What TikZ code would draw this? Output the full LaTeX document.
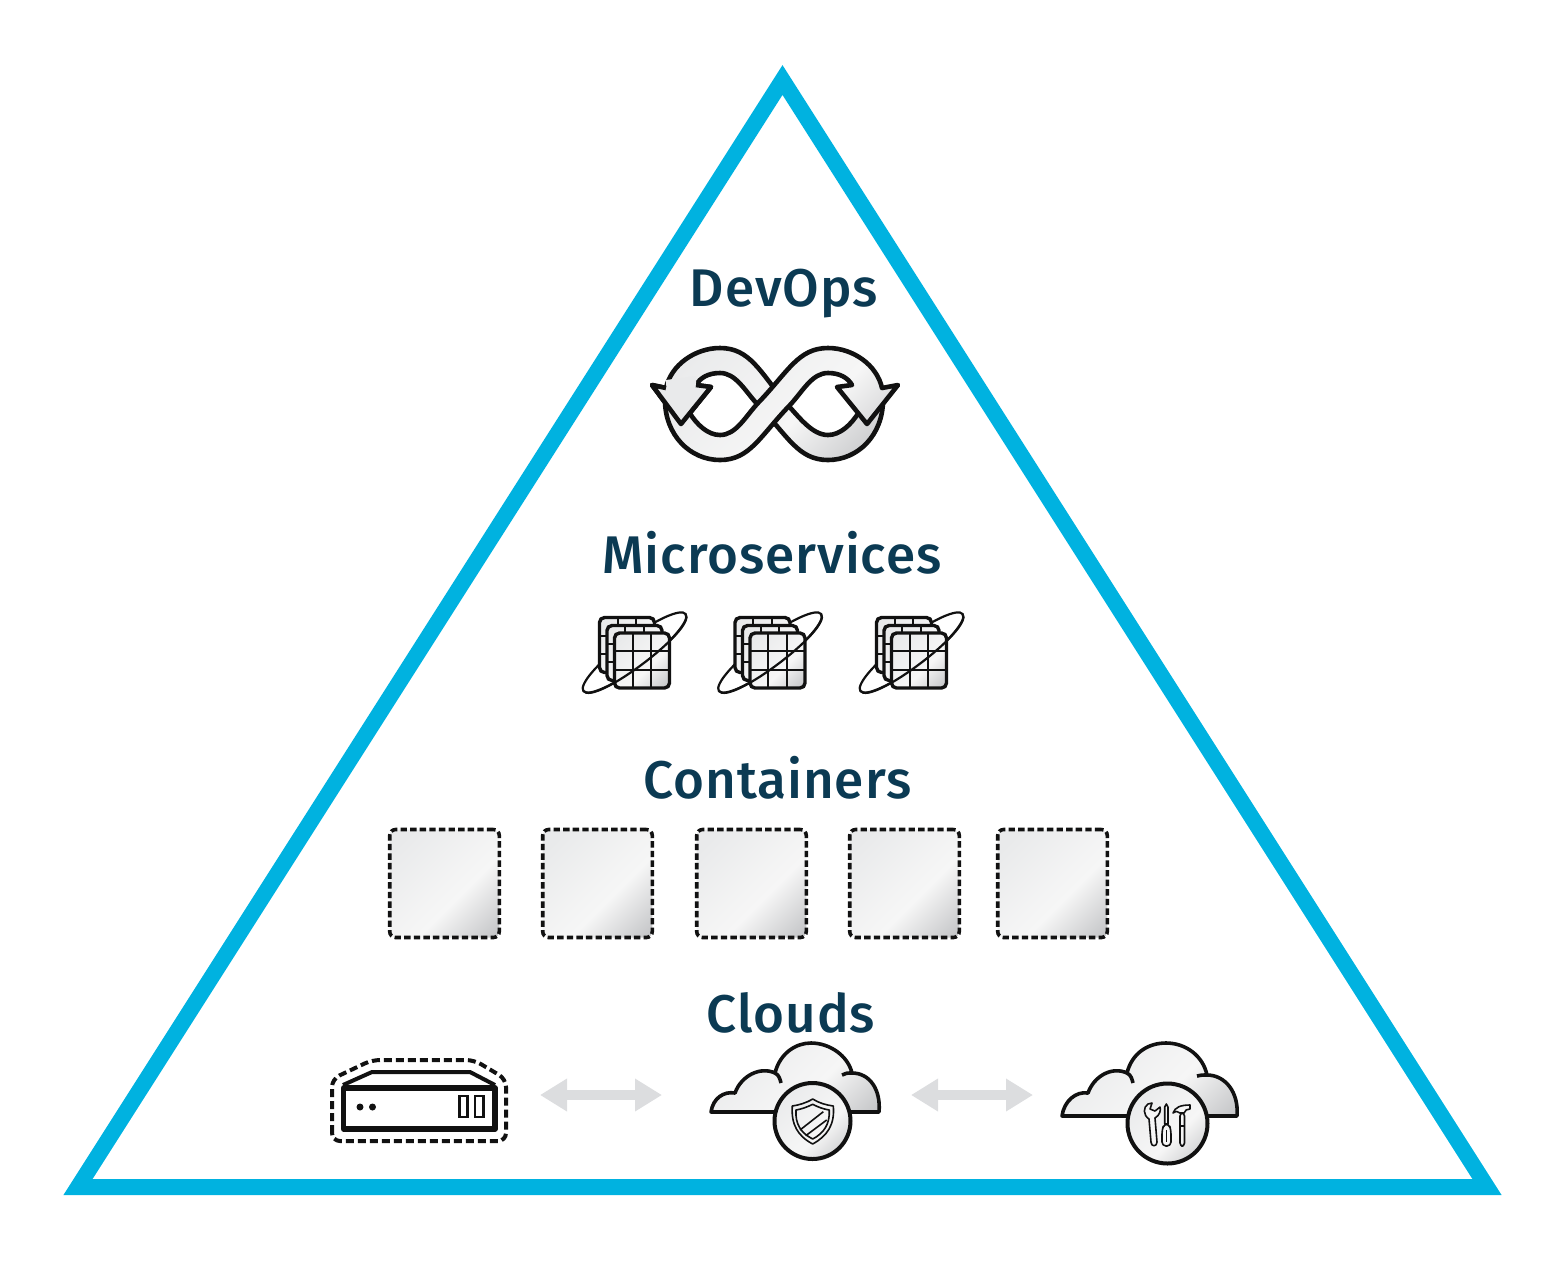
\documentclass[tikz,border=0pt]{standalone}
\usepackage{fontspec}
\setmainfont{Fira Sans Medium}[LetterSpace=1.8]
\usetikzlibrary{arrows.meta}
\definecolor{pyramidblue}{HTML}{00B2E0}
\definecolor{labelteal}{HTML}{0B3A53}
\definecolor{iconblack}{HTML}{111111}
\definecolor{arrowgray}{HTML}{DCDDDF}
\definecolor{metaltop}{HTML}{E9EAEB}
\definecolor{metalmid}{HTML}{F6F6F6}
\definecolor{metalend}{HTML}{C6C7C9}
\pgfdeclareverticalshading{metalsheen}{100bp}{color(0bp)=(metalend); color(17bp)=(metalend); color(41bp)=(metalmid); color(50bp)=(metalmid!80!metaltop); color(78bp)=(metaltop); color(100bp)=(metaltop)}
\tikzset{
  metal/.style={shading=metalsheen, shading angle=45},
  tierlabel/.style={text=labelteal, inner sep=0pt, anchor=base, font=\fontsize{26.5}{30}\selectfont},
  containerbox/.style={metal, draw=iconblack, line width=1.8pt, dash pattern=on 3.2pt off 1.6pt, rounded corners=3pt, minimum width=54.8pt, minimum height=54pt, inner sep=0pt},
  flowarrow/.style={draw=arrowgray, line width=5pt, arrows={Triangle[length=13.5pt,width=15.5pt]-Triangle[length=13.5pt,width=15.5pt]}},
  ribbonline/.style={draw=iconblack, line width=2.3pt, line join=round},
  cloudline/.style={draw=iconblack, line width=1.8pt, line join=round},
  toolline/.style={draw=iconblack, line width=.8pt, line join=round},
  pics/gridcard/.style={code={
    \draw[metal, draw=iconblack, line width=1.7pt, rounded corners=2.5pt] (0,0) rectangle (55,55);
    \draw[draw=iconblack, line width=1pt] (18.3,0) -- (18.3,55);
    \draw[draw=iconblack, line width=1pt] (36.6,0) -- (36.6,55);
    \draw[draw=iconblack, line width=1pt] (0,18.3) -- (55,18.3);
    \draw[draw=iconblack, line width=1pt] (0,36.6) -- (55,36.6);
  }},
  pics/serviceicon/.style={code={
    \draw[iconblack, line width=1.1pt, rotate=37] (0,0) ellipse [x radius=64, y radius=14];
    \pic at (-35,-35) {gridcard};
    \pic at (-27.5,-27) {gridcard};
    \pic at (-20,-19.5) {gridcard};
    \draw[iconblack, line width=1.1pt, rotate=37] (-64,0) .. controls (-64,18.7) and (64,18.7) .. (64,0);
  }},
}
\begin{document}
\begin{tikzpicture}[x=.5pt, y=-.5pt]
\useasboundingbox (0,0) rectangle (1565,1266);
\draw[pyramidblue, line width=8pt] (782.5,80) -- (1487,1187) -- (78,1187) -- cycle;

\node[tierlabel] (devops) at (784,306) {DevOps};
\node[tierlabel] (microservices) at (772,573) {Microservices};
\node[tierlabel] (containers) at (777.5,798) {Containers};
\node[tierlabel] (clouds) at (791,1032) {Clouds};

\draw[metal, ribbonline] (883,400) .. controls (883,435) and (858,460) .. (828,460) .. controls (798,460) and (788,436) .. (758,405) .. controls (745,391) and (736,373) .. (720,373) .. controls (708,373) and (700,378) .. (696,385) -- (711,387) -- (681,424) -- (652,385) -- (666,388) .. controls (671,365) and (695,348) .. (720,348) .. controls (750,348) and (760,372) .. (786,403) .. controls (799,417) and (812,435) .. (828,435) .. controls (840,435) and (851,425) .. (859,412) -- cycle;
\draw[metal, ribbonline] (665,400) .. controls (665,435) and (690,460) .. (720,460) .. controls (750,460) and (760,436) .. (790,405) .. controls (803,391) and (812,373) .. (828,373) .. controls (840,373) and (848,378) .. (852,385) -- (837,387) -- (867,424) -- (898,385) -- (882,388) .. controls (877,365) and (853,348) .. (828,348) .. controls (798,348) and (788,372) .. (758,403) .. controls (745,417) and (736,435) .. (720,435) .. controls (708,435) and (697,425) .. (689,412) -- cycle;
\fill[metaltop] (696,385) -- (711,387) -- (681,424) -- (652,385) -- (666,388) -- (666,380) -- (696,376) -- cycle;
\draw[ribbonline] (696,385) -- (711,387) -- (681,424) -- (652,385) -- (666,388);

\pic at (634.5,652.5) {serviceicon};
\pic at (770,652.5) {serviceicon};
\pic at (911.5,652.5) {serviceicon};

\node[containerbox] (boxa) at (444.5,883.5) {};
\node[containerbox] (boxb) at (597.5,883.5) {};
\node[containerbox] (boxc) at (751.5,883.5) {};
\node[containerbox] (boxd) at (904.5,883.5) {};
\node[containerbox] (boxe) at (1052.5,883.5) {};

\draw[iconblack, line width=2pt, dash pattern=on 4pt off 2pt, rounded corners=4pt] (332,1141) -- (332,1079) -- (372,1060) -- (474,1060) -- (506,1079) -- (506,1141) -- cycle;
\draw[iconblack, line width=2pt, line join=round] (343,1085) -- (372,1072) -- (470,1072) -- (495,1085);
\draw[iconblack, line width=2.6pt, line join=round] (343.5,1088) rectangle (495,1129);
\fill[iconblack] (360,1107) circle (3.5);
\fill[iconblack] (372.5,1107) circle (3.5);
\draw[iconblack, line width=1.3pt] (459.5,1096) rectangle (467.5,1117);
\draw[iconblack, line width=1.3pt] (475,1096) rectangle (483.5,1117);

\coordinate (linkaleft) at (540,1095);
\coordinate (linkaright) at (662,1095);
\coordinate (linkbleft) at (911,1095);
\coordinate (linkbright) at (1033,1095);
\draw[flowarrow] (linkaleft) -- (linkaright);
\draw[flowarrow] (linkbleft) -- (linkbright);

\draw[metal, cloudline] (711,1112) .. controls (713,1098) and (724,1091) .. (735,1093) .. controls (741,1076) and (760,1066) .. (775,1073) .. controls (780,1053) and (796,1043) .. (811,1043) .. controls (830,1043) and (848,1056) .. (852,1073) .. controls (870,1073) and (881,1090) .. (879,1112) -- cycle;
\draw[cloudline] (775,1073) .. controls (779,1075) and (780,1079) .. (781,1083);
\draw[cloudline] (852,1073) .. controls (848,1073) and (845,1073) .. (842,1075);
\draw[metal, draw=iconblack, line width=2pt] (812.5,1121) circle (38);
\draw[toolline] (812.7,1099) .. controls (806,1103) and (799,1105) .. (792.3,1106) .. controls (791,1125) and (798,1136) .. (812.7,1144) .. controls (827,1136) and (835,1125) .. (833.3,1106) .. controls (826,1105) and (819,1103) .. (812.7,1099) -- cycle;
\draw[toolline] (812.7,1104.3) .. controls (807,1107) and (802,1109) .. (796,1110) .. controls (795,1124) and (801,1133) .. (812.7,1139) .. controls (824,1133) and (830,1124) .. (829.3,1110) .. controls (823,1109) and (818,1107) .. (812.7,1104.3) -- cycle;
\draw[toolline] (800,1130) -- (823.3,1111.7);
\draw[toolline] (805.7,1135.7) -- (826.7,1120);

\draw[metal, cloudline] (1062,1116) .. controls (1064,1101) and (1076,1091) .. (1088,1093) .. controls (1094,1076) and (1112,1066) .. (1127,1073) .. controls (1132,1053) and (1148,1043) .. (1166,1043) .. controls (1186,1043) and (1203,1056) .. (1207,1075) .. controls (1225,1075) and (1239,1092) .. (1237,1116) -- cycle;
\draw[cloudline] (1127,1073) .. controls (1131,1075) and (1132,1079) .. (1133,1083);
\draw[cloudline] (1207,1075) .. controls (1203,1075) and (1200,1075) .. (1197,1076);
\draw[metal, draw=iconblack, line width=2pt] (1167.5,1123.5) circle (40);
\draw[toolline, fill=metalmid] (1148,1104) .. controls (1143,1107) and (1143,1115) .. (1149,1119) -- (1151,1142) .. controls (1151,1147) and (1157,1147) .. (1157,1142) -- (1155,1118) .. controls (1160,1115) and (1161,1110) .. (1160,1107) -- (1155,1111) -- (1150,1109) -- (1152,1103) -- cycle;
\draw[toolline, fill=metalmid] (1166.3,1104) -- (1164.7,1107) -- (1164.7,1124) -- (1168,1124) -- (1168,1107) -- cycle;
\draw[toolline, fill=metalmid, rounded corners=2pt] (1162,1146) -- (1162,1130) -- (1164,1124) -- (1169,1124) -- (1171,1130) -- (1171,1146) -- cycle;
\draw[toolline] (1166.5,1130) -- (1166.5,1142);
\draw[toolline, fill=metalmid] (1173,1113) .. controls (1175,1107) and (1181,1105) .. (1190,1105) -- (1190,1109) .. controls (1187,1109) and (1185,1110) .. (1184,1113) -- (1180,1113) .. controls (1178,1111) and (1176,1111) .. (1173,1113) -- cycle;
\draw[toolline, fill=metalmid, rounded corners=1.5pt] (1180,1113) -- (1184.5,1113) -- (1184.5,1146) -- (1180,1146) -- cycle;
\draw[toolline] (1180,1126) -- (1184.5,1126);
\end{tikzpicture}
\end{document}
